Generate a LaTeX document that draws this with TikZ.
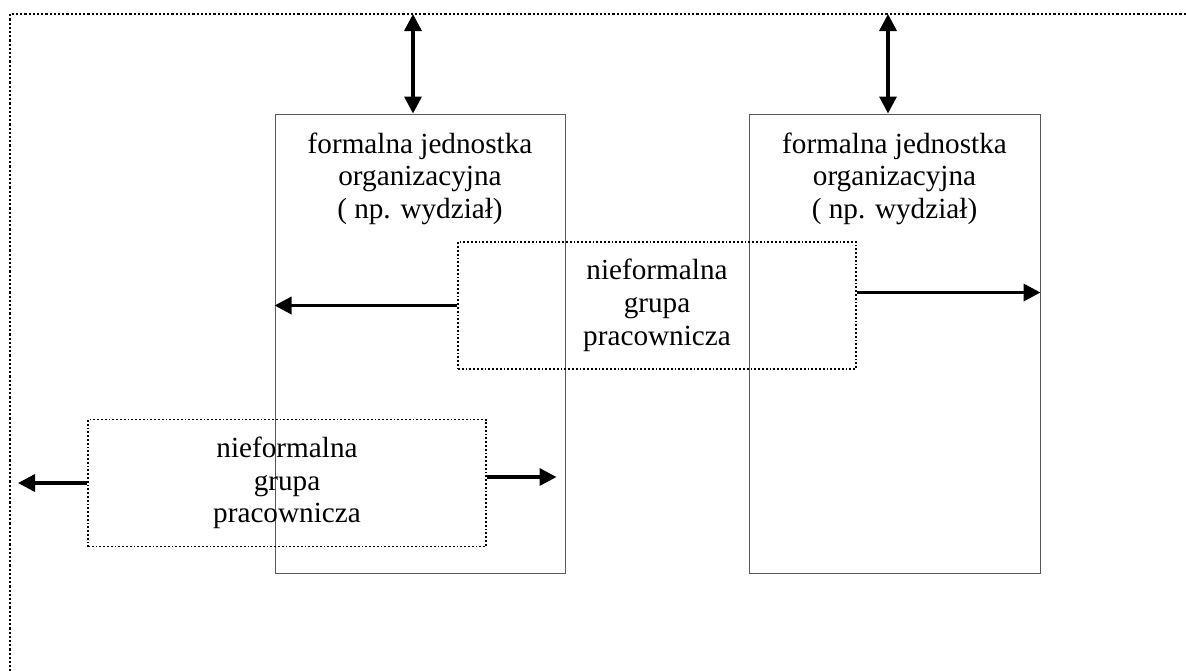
\documentclass[tikz,border=0pt]{standalone}
\usepackage{fontspec}
\setmainfont{Liberation Serif}
\usepackage{tikz}
\usetikzlibrary{arrows.meta, positioning}

\begin{document}
\begin{tikzpicture}[
    x=0.5pt, y=-0.5pt,
    formal/.style  = {rectangle, draw=gray!70!black,
                      line width=0.5pt, inner sep=0pt,
                      minimum width=145pt,
                      minimum height=229.5pt},
    fortext/.style = {align=center, inner sep=0pt,
                      font=\fontsize{14.6}{16.2}\selectfont},
    informal/.style = {rectangle, draw, densely dotted,
                       line width=0.9pt, inner sep=0pt,
                       minimum width=199pt,
                       minimum height=63.5pt, align=center,
                       font=\fontsize{14.6}{16.4}\selectfont},
    arrow/.style  = {-{Triangle[length=8.5pt, width=8.5pt]},
                     line width=1.7pt},
    dblarrow/.style = {{Triangle[length=8.5pt, width=8.5pt]}-{Triangle[length=8.5pt, width=8.5pt]},
                       line width=1.7pt}
]
\useasboundingbox (0,0) rectangle (1186,670);

%% Outer frame (organisation)
\draw[densely dotted, line width=1.1pt] (1190,14) -- (10,14) -- (10,680);
\coordinate (topA) at (413,14);
\coordinate (topB) at (888,14);

%% Formal units
\node[formal] (fbA) at (420,343.5) {};
\node[formal, minimum width=145.5pt] (fbB) at (894.5,343.5) {};
\node[fortext, below=9.5pt of fbA.north] (fbAtxt)
    {formalna jednostka\\organizacyjna\\( np. wydział)};
\node[fortext, below=9.5pt of fbB.north] (fbBtxt)
    {formalna jednostka\\organizacyjna\\( np. wydział)};

%% Informal groups
\node[informal] (ngA) at (657,305.5)
    {nieformalna\\grupa\\pracownicza};
\node[informal] (ngB) at (287,483)
    {nieformalna\\grupa\\pracownicza};

%% Arrows
\draw[dblarrow] (topA) -- (topA |- fbA.north);
\draw[dblarrow] (topB) -- (topB |- fbB.north);
\draw[arrow] (ngA.west) -- (ngA.west -| fbA.west);
\coordinate (ngAr) at ([yshift=6.5pt]ngA.east);
\draw[arrow] (ngAr) -- (ngAr -| fbB.east);
\coordinate (outL) at (18,483);
\draw[arrow] (ngB.west) -- (outL);
\coordinate (ngBr) at ([yshift=3pt]ngB.east);
\coordinate (inA) at ([xshift=-4.5pt]ngBr -| fbA.east);
\draw[arrow] (ngBr) -- (inA);
\end{tikzpicture}
\end{document}
